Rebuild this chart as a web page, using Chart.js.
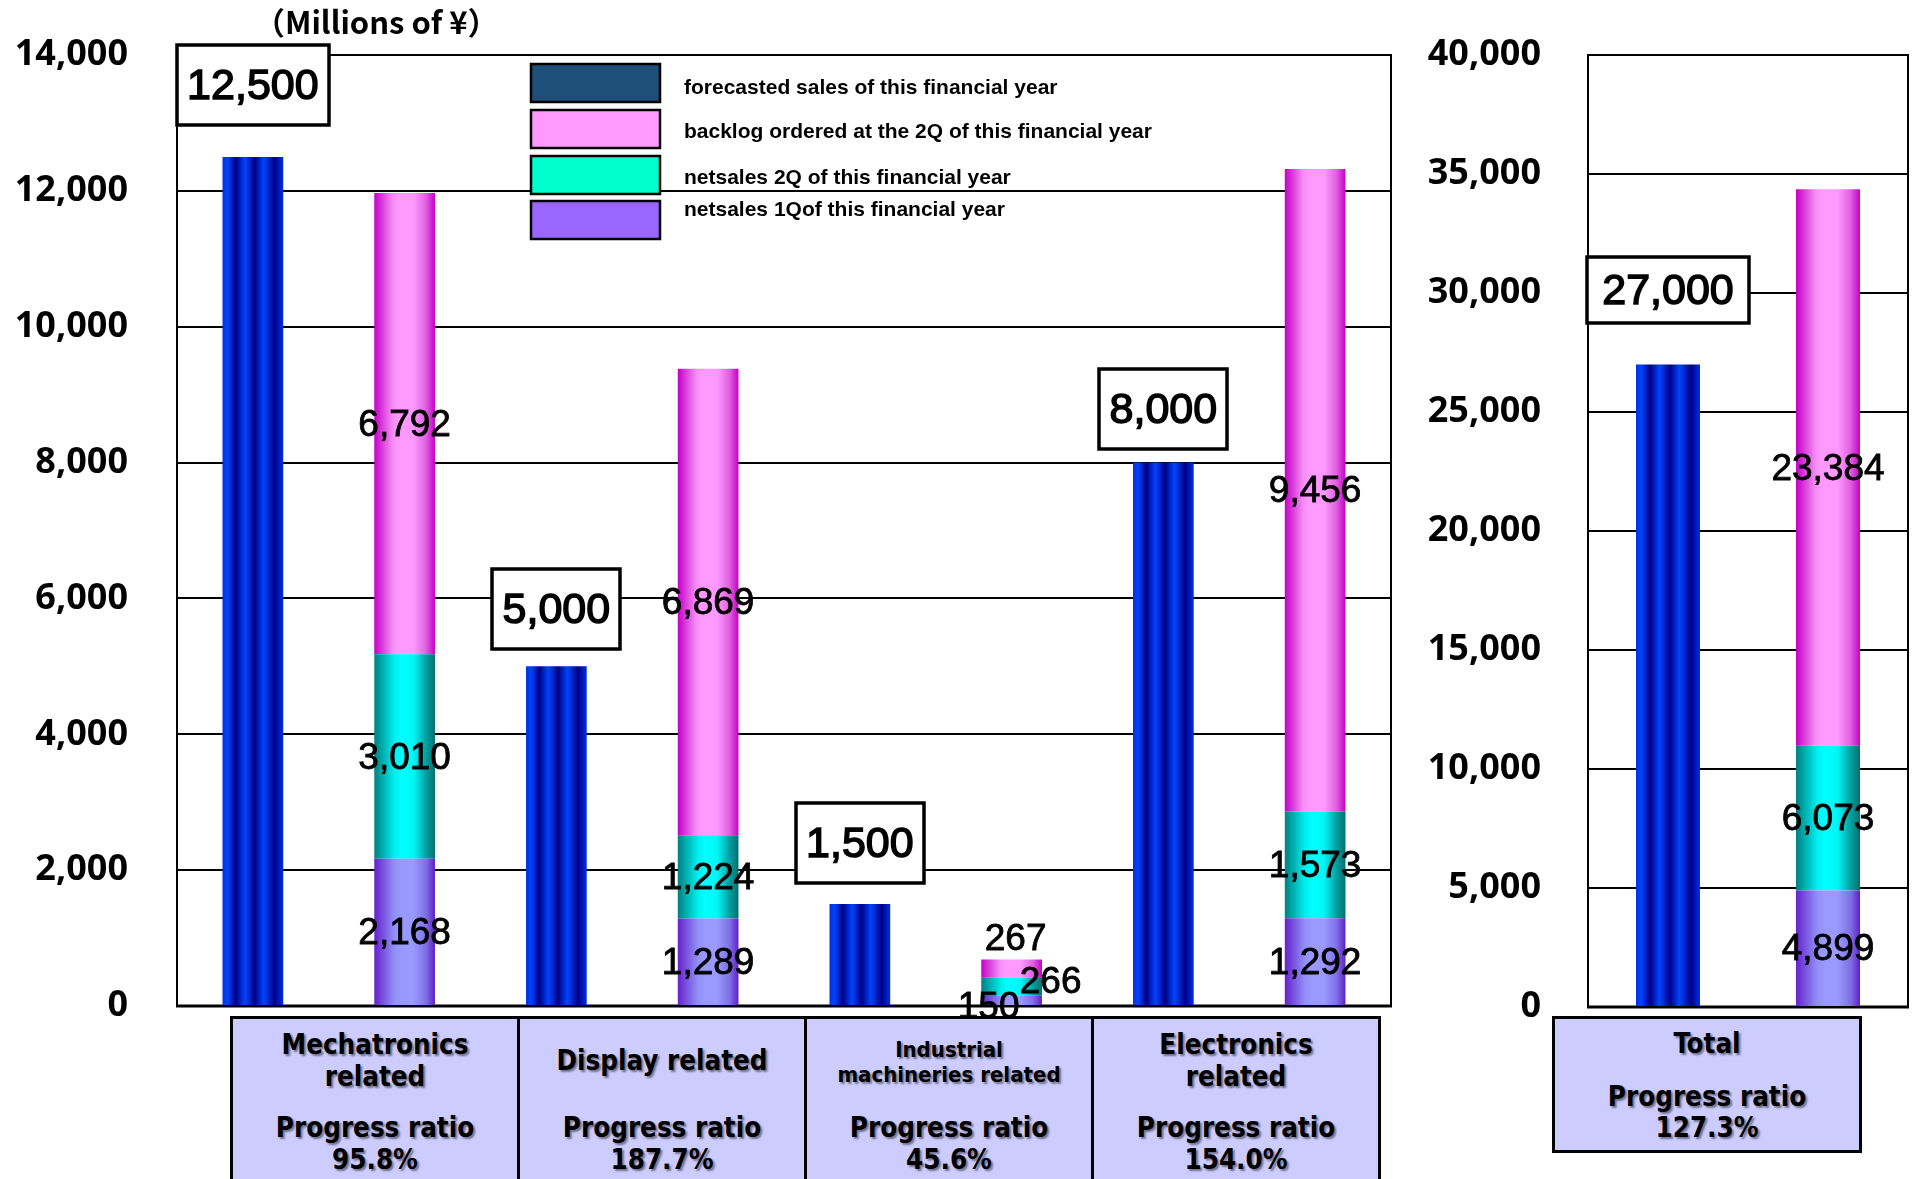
<!DOCTYPE html>
<html>
<head>
<meta charset="utf-8">
<title>Sales progress by segment</title>
<script src="https://cdn.jsdelivr.net/npm/chart.js@4.4.1/dist/chart.umd.min.js"></script>
<style>
  html, body { margin: 0; padding: 0; background: #fff; }
  body { width: 1915px; height: 1179px; position: relative; overflow: hidden; }
  canvas { position: absolute; top: 0; }
  #unit {
    position: absolute; left: 254px; top: -2px;
    font: bold 31px "Noto Sans CJK JP", sans-serif; white-space: nowrap; color: #000;
  }
  .cell {
    position: absolute; background: #ccccff; border: 3px solid #000; box-sizing: border-box;
    font-family: "DejaVu Sans Condensed", "DejaVu Sans", sans-serif; font-weight: bold;
    font-stretch: condensed; color: #000; text-align: center;
    text-shadow: 2px 2px 2px rgba(0, 0, 0, 0.45);
  }
  .cell div { position: absolute; left: 0; right: 0; transform: translateY(-50%); }
</style>
</head>
<body>
<canvas id="segmentChart" width="1400" height="1179" style="left:0"></canvas>
<canvas id="totalChart" width="515" height="1179" style="left:1400px"></canvas>
<div id="unit">（Millions of ¥）</div>
<div id="cells"></div>

<script>
// Sales forecast vs. first-half results by business segment (millions of yen)
const segments = ['Mechatronics related', 'Display related', 'Industrial machineries related', 'Electronics related'];
const segmentLines = [['Mechatronics', 'related'], ['Display related'], ['Industrial', 'machineries related'], ['Electronics', 'related']];
const forecastSales = [12500, 5000, 1500, 8000];
const netSales1Q = [2168, 1289, 150, 1292];
const netSales2Q = [3010, 1224, 266, 1573];
const backlog2Q = [6792, 6869, 267, 9456];
const progressRatio = ['95.8%', '187.7%', '45.6%', '154.0%'];

const totalLabels = ['Total'];
const totalForecast = [27000];
const totalNetSales1Q = [4899];
const totalNetSales2Q = [6073];
const totalBacklog2Q = [23384];
const totalProgressRatio = ['127.3%'];

const segmentTicks = [0, 2000, 4000, 6000, 8000, 10000, 12000, 14000];
const totalTicks = [0, 5000, 10000, 15000, 20000, 25000, 30000, 35000, 40000];

const seriesNames = {
  forecast: 'forecasted sales of this financial year',
  backlog: 'backlog ordered at the 2Q of this financial year',
  q2: 'netsales 2Q of this financial year',
  q1: 'netsales 1Qof this financial year'
};

// Horizontal gradient stops giving the bars their shaded, cylindrical look
const barGradients = {
  forecast: [[0, '#0030e0'], [0.08, '#0044ff'], [0.22, '#000088'], [0.37, '#0044ff'], [0.53, '#000088'], [0.68, '#0044ff'], [0.86, '#000088'], [1, '#0030e8']],
  backlog: [[0, '#c400c8'], [0.3, '#f48cf4'], [0.4, '#ff99ff'], [0.65, '#ff99ff'], [0.85, '#e060e0'], [1, '#c600c8']],
  q2: [[0, '#008080'], [0.33, '#00eeee'], [0.45, '#00ffff'], [0.65, '#00f6f6'], [0.85, '#00a0a0'], [1, '#007070']],
  q1: [[0, '#6622cc'], [0.33, '#9090f6'], [0.45, '#9999ff'], [0.65, '#9999ff'], [0.85, '#8070e6'], [1, '#6020c8']]
};
const legendColors = { forecast: '#1f4e79', backlog: '#ff99ff', q2: '#00ffcc', q1: '#9966ff' };

const tickFont = { family: '"Noto Sans", "DejaVu Sans", sans-serif', size: 36, weight: 'bold' };
const fmt = v => Number(v).toLocaleString('en-US');

function makeDatasets(f, a, b, c) {
  return [
    { key: 'forecast', label: seriesNames.forecast, data: f, stack: 'plan' },
    { key: 'q1', label: seriesNames.q1, data: a, stack: 'actual' },
    { key: 'q2', label: seriesNames.q2, data: b, stack: 'actual' },
    { key: 'backlog', label: seriesNames.backlog, data: c, stack: 'actual' }
  ].map(d => Object.assign(d, { backgroundColor: legendColors[d.key], borderWidth: 0, categoryPercentage: 1, barPercentage: 0.4 }));
}

function yScale(ticks, width, pad) {
  return {
    stacked: true,
    min: ticks[0],
    max: ticks[ticks.length - 1],
    afterBuildTicks: s => { s.ticks = ticks.map(v => ({ value: v })); },
    afterFit: s => { s.width = width; s.paddingTop = 0; s.paddingBottom = 0; },
    grid: { color: '#000', lineWidth: 2, drawTicks: false },
    border: { display: true, color: '#000', width: 2 },
    ticks: { padding: pad, color: '#000', font: tickFont, callback: v => fmt(v) }
  };
}

// Paint each bar with its gradient, spanning that bar's own width
const barFill = {
  id: 'barFill',
  beforeDatasetsDraw(chart) {
    const ctx = chart.ctx;
    chart.data.datasets.forEach((ds, di) => {
      const stops = barGradients[ds.key];
      chart.getDatasetMeta(di).data.forEach(bar => {
        const g = ctx.createLinearGradient(bar.x - bar.width / 2, 0, bar.x + bar.width / 2, 0);
        stops.forEach(([o, c]) => g.addColorStop(o, c));
        bar.options = Object.assign({}, bar.options, { backgroundColor: g });
      });
    });
  }
};

// Box around the plot area with a heavier base line
const plotFrame = {
  id: 'plotFrame',
  beforeDatasetsDraw(chart) {
    const { ctx, chartArea: { left, right, top, bottom } } = chart;
    ctx.save();
    ctx.strokeStyle = '#000';
    ctx.lineWidth = 2;
    ctx.strokeRect(left, top, right - left, bottom - top);
    ctx.lineWidth = 3;
    ctx.beginPath();
    ctx.moveTo(left - 1, bottom);
    ctx.lineTo(right + 1, bottom);
    ctx.stroke();
    ctx.restore();
  }
};

// Values written in the middle of each stacked segment
const valueLabels = {
  id: 'valueLabels',
  afterDraw(chart, args, opts) {
    const ctx = chart.ctx;
    ctx.save();
    ctx.font = opts.font;
    ctx.fillStyle = '#000';
    ctx.strokeStyle = '#000';
    ctx.lineWidth = 0.8;
    ctx.textAlign = 'center';
    ctx.textBaseline = 'middle';
    chart.data.datasets.forEach((ds, di) => {
      if (ds.stack !== 'actual') return;
      chart.getDatasetMeta(di).data.forEach((bar, i) => {
        const off = (opts.offsets[i] && opts.offsets[i][ds.key]) || [0, 0];
        const x = bar.x + off[0];
        const y = (bar.y + bar.base) / 2 + off[1] + 2;
        ctx.fillText(fmt(ds.data[i]), x, y);
        ctx.strokeText(fmt(ds.data[i]), x, y);
      });
    });
    ctx.restore();
  }
};

// Framed forecast figure above each forecast bar
const forecastBoxes = {
  id: 'forecastBoxes',
  afterDraw(chart, args, opts) {
    const ctx = chart.ctx;
    const di = chart.data.datasets.findIndex(d => d.key === 'forecast');
    const ds = chart.data.datasets[di];
    ctx.save();
    ctx.font = opts.font;
    chart.getDatasetMeta(di).data.forEach((bar, i) => {
      const txt = fmt(ds.data[i]);
      const w = Math.round(ctx.measureText(txt).width + opts.padX * 2);
      const bottom = Math.round(bar.y - opts.gaps[i]);
      const top = bottom - opts.height;
      const left = Math.round(bar.x - w / 2);
      ctx.fillStyle = '#fff';
      ctx.fillRect(left, top, w, opts.height);
      ctx.strokeStyle = '#000';
      ctx.lineWidth = 3.5;
      ctx.strokeRect(left, top, w, opts.height);
      ctx.fillStyle = '#000';
      ctx.lineWidth = 1.5;
      ctx.textAlign = 'center';
      ctx.textBaseline = 'middle';
      ctx.fillText(txt, bar.x, top + opts.height / 2 + 2);
      ctx.strokeText(txt, bar.x, top + opts.height / 2 + 2);
    });
    ctx.restore();
  }
};

// Series key with solid swatches
const seriesKey = {
  id: 'seriesKey',
  afterDraw(chart, args, opts) {
    if (!opts.display) return;
    const ctx = chart.ctx;
    ctx.save();
    ctx.font = opts.font;
    ctx.textBaseline = 'middle';
    ctx.textAlign = 'left';
    opts.order.forEach((key, k) => {
      const ds = chart.data.datasets.find(d => d.key === key);
      ctx.fillStyle = legendColors[key];
      ctx.fillRect(opts.boxX, opts.boxTops[k], opts.boxW, opts.boxH);
      ctx.strokeStyle = '#000';
      ctx.lineWidth = 2.5;
      ctx.strokeRect(opts.boxX, opts.boxTops[k], opts.boxW, opts.boxH);
      ctx.fillStyle = '#000';
      ctx.fillText(ds.label, opts.textX, opts.textYs[k]);
    });
    ctx.restore();
  }
};

Chart.defaults.font.family = '"Liberation Sans", Arial, sans-serif';

const commonPlugins = [barFill, plotFrame, valueLabels, forecastBoxes, seriesKey];

new Chart(document.getElementById('segmentChart'), {
  type: 'bar',
  data: { labels: segments, datasets: makeDatasets(forecastSales, netSales1Q, netSales2Q, backlog2Q) },
  options: {
    responsive: false,
    animation: false,
    devicePixelRatio: 1,
    layout: { padding: { top: 55, bottom: 173, left: 0, right: 9 } },
    scales: {
      x: { stacked: true, display: false },
      y: yScale(segmentTicks, 177, 49)
    },
    plugins: {
      legend: { display: false },
      tooltip: { enabled: false },
      valueLabels: {
        font: '37px "Liberation Sans", Arial, sans-serif',
        offsets: { 2: { q1: [-23, 5], q2: [39, -6], backlog: [4, -31] } }
      },
      forecastBoxes: { font: '43px "Liberation Sans", Arial, sans-serif', padX: 10, height: 80, gaps: [32, 17, 21, 14] },
      seriesKey: {
        display: true,
        font: 'bold 21px "Liberation Sans", Arial, sans-serif',
        order: ['forecast', 'backlog', 'q2', 'q1'],
        boxX: 531, boxW: 129, boxH: 38,
        boxTops: [64, 110, 156, 201],
        textX: 684, textYs: [88, 132, 178, 210]
      }
    }
  },
  plugins: commonPlugins
});

new Chart(document.getElementById('totalChart'), {
  type: 'bar',
  data: { labels: totalLabels, datasets: makeDatasets(totalForecast, totalNetSales1Q, totalNetSales2Q, totalBacklog2Q) },
  options: {
    responsive: false,
    animation: false,
    devicePixelRatio: 1,
    layout: { padding: { top: 55, bottom: 172, left: 0, right: 7 } },
    scales: {
      x: { stacked: true, display: false },
      y: yScale(totalTicks, 188, 47)
    },
    plugins: {
      legend: { display: false },
      tooltip: { enabled: false },
      valueLabels: { font: '37px "Liberation Sans", Arial, sans-serif', offsets: {} },
      forecastBoxes: { font: '43px "Liberation Sans", Arial, sans-serif', padX: 15, height: 66, gaps: [41] },
      seriesKey: { display: false }
    }
  },
  plugins: commonPlugins
});

// Segment name and progress ratio panels under the bars
const cellsEl = document.getElementById('cells');
function addCell(left, top, width, height, nameLines, nameY, nameSize, ratioLines, ratioY, lineH) {
  const cell = document.createElement('div');
  cell.className = 'cell';
  Object.assign(cell.style, { left: left + 'px', top: top + 'px', width: width + 'px', height: height + 'px' });
  const name = document.createElement('div');
  name.style.top = nameY + 'px';
  name.style.fontSize = nameSize + 'px';
  name.style.lineHeight = lineH.name + 'px';
  name.innerHTML = nameLines.map(t => '<span>' + t + '</span>').join('<br>');
  const ratio = document.createElement('div');
  ratio.style.top = ratioY + 'px';
  ratio.style.fontSize = '27.5px';
  ratio.style.lineHeight = lineH.ratio + 'px';
  ratio.innerHTML = ratioLines.join('<br>');
  cell.appendChild(name);
  cell.appendChild(ratio);
  cellsEl.appendChild(cell);
}
segmentLines.forEach((lines, i) => {
  const small = i === 2;
  addCell(230 + 287 * i, 1016, 290, 200, lines, small ? 43 : 41, small ? 22 : 27.5,
    ['Progress ratio', progressRatio[i]], 124, { name: small ? 25 : 32, ratio: 32 });
});
addCell(1552, 1016, 310, 137, totalLabels, 24, 27.5, ['Progress ratio', totalProgressRatio[0]], 93, { name: 32, ratio: 31 });
</script>
</body>
</html>
